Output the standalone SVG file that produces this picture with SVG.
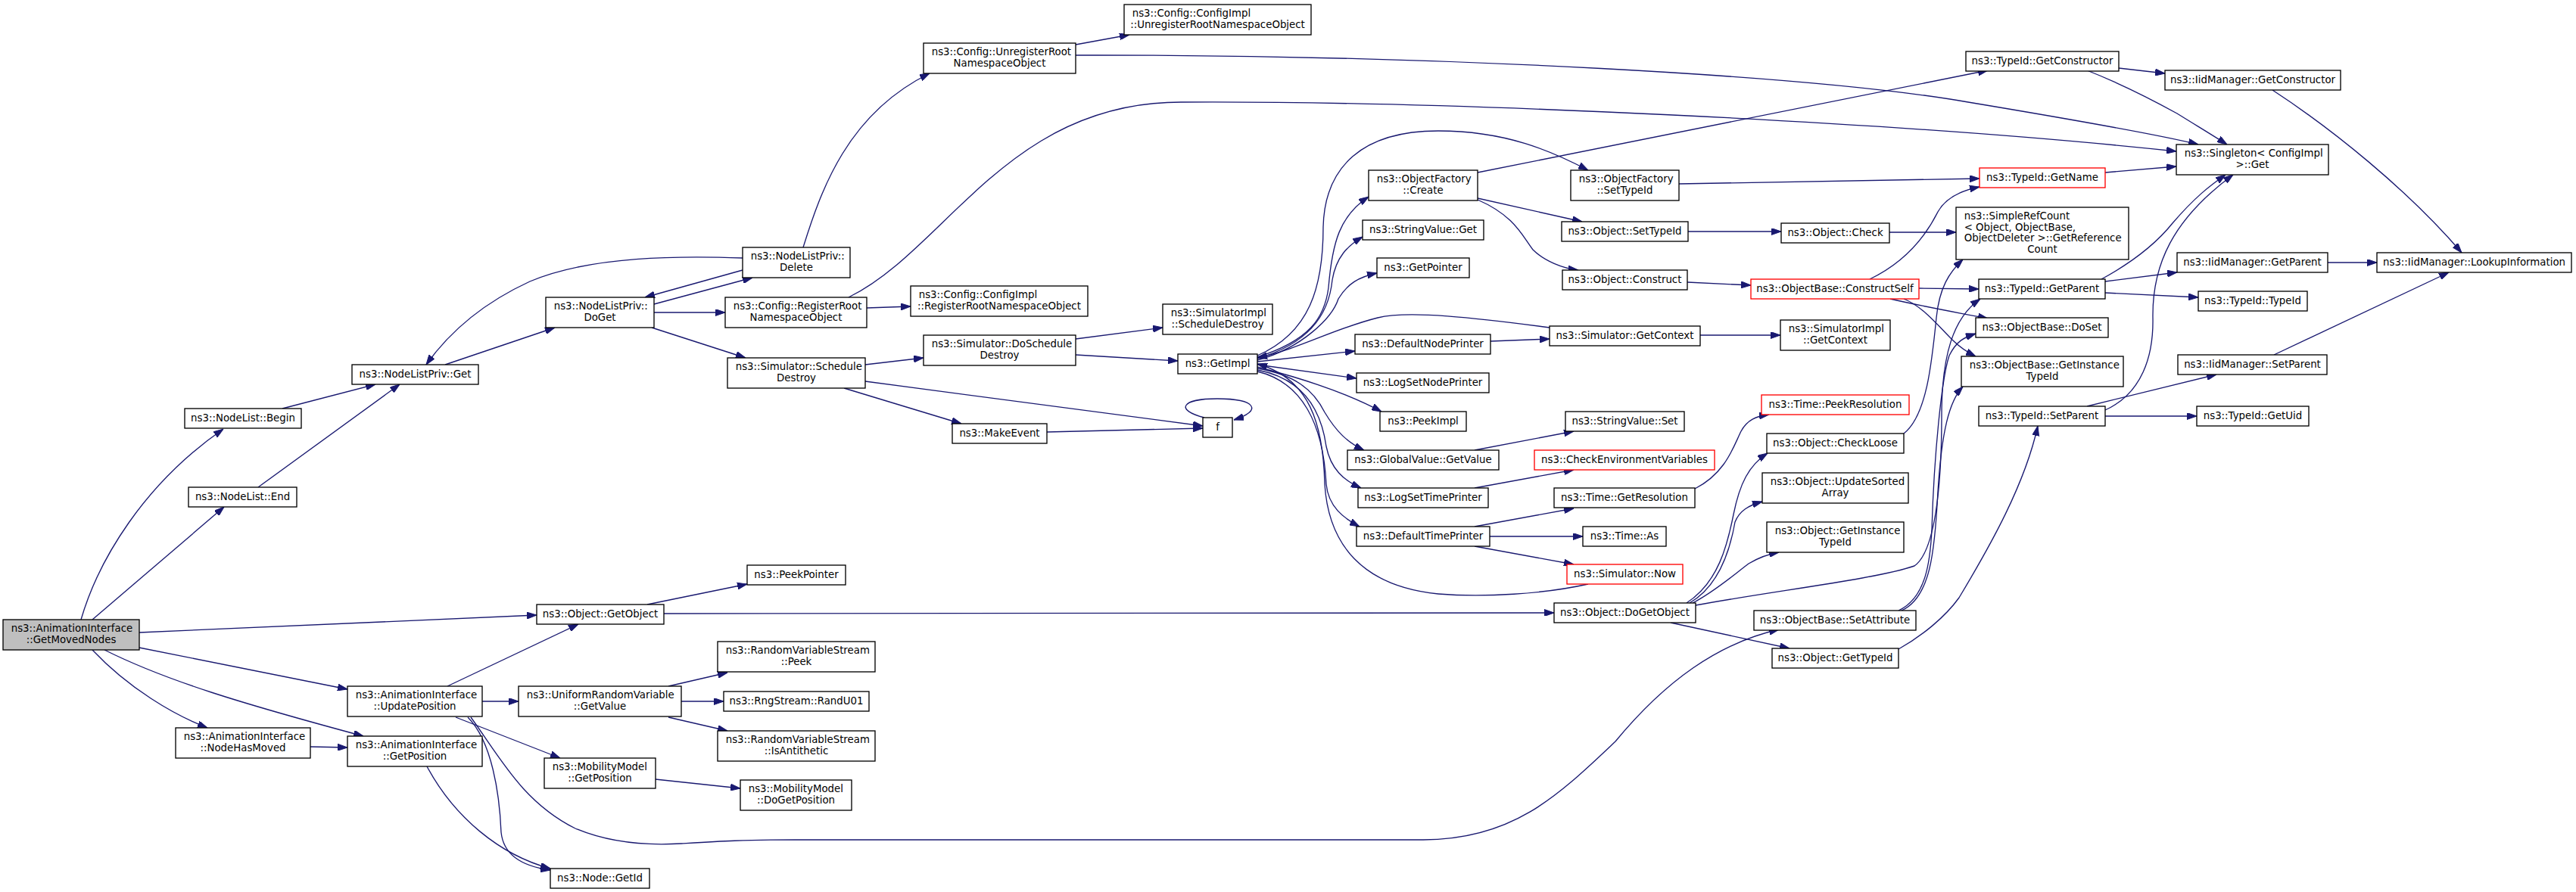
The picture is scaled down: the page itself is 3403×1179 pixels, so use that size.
<svg xmlns="http://www.w3.org/2000/svg" width="3403" height="1179" viewBox="0 0 3403 1179">
<style>
rect{fill:#fff;stroke:#000;stroke-width:1.33}
.red rect{stroke:#ff0000}
.root rect{fill:#bfbfbf}
text{font-family:"DejaVu Sans",sans-serif;font-size:13.33px;fill:#000}
.m{text-anchor:middle}
.s{text-anchor:start}
#edges path{fill:none;stroke:#191970;stroke-width:1.33;marker-end:url(#a)}
</style>
<defs>
<marker id="a" viewBox="0 0 13 9" refX="13" refY="4.5" markerWidth="13" markerHeight="9" markerUnits="userSpaceOnUse" orient="auto">
<path d="M0,0 L13,4.5 L0,9 z" fill="#191970" stroke="#191970" stroke-width="1"/>
</marker>
</defs>
<rect x="0" y="0" width="3403" height="1179" style="fill:#fff;stroke:none"/>
<g id="edges">
<path d="M107,819 C130,740 190,640 295,567"/>
<path d="M122,819 L296,670"/>
<path d="M184,836 L709,813"/>
<path d="M184,856 L459,911"/>
<path d="M122,859 C170,910 230,945 274,962"/>
<path d="M138,859 C220,900 320,930 480,973"/>
<path d="M373,540 L496,508"/>
<path d="M341,644 L528,508"/>
<path d="M588,482 L733,433"/>
<path d="M864,402 L994,367"/>
<path d="M981,357 L852,393"/>
<path d="M981,341 C900,338 780,338 700,372 C650,395 600,430 563,482"/>
<path d="M1061,327 C1085,250 1120,150 1228,97"/>
<path d="M1421,59 L1492,46"/>
<path d="M1421,73 C1900,72 2400,100 2600,135 C2780,165 2860,180 2904,191"/>
<path d="M864,413 L958,413"/>
<path d="M1145,407 L1203,405"/>
<path d="M1121,393 C1250,330 1330,135 1560,135 C1900,133 2500,160 2875,200"/>
<path d="M861,433 L985,473"/>
<path d="M1143,482 L1220,473"/>
<path d="M1143,504 L1589,563"/>
<path d="M1115,513 L1270,560"/>
<path d="M1383,571 L1589,566"/>
<path d="M1591,552 C1552,542 1560,527 1608,527 C1660,527 1668,543 1630,555"/>
<path d="M1421,448 L1536,433"/>
<path d="M1421,469 L1556,477"/>
<path d="M1661,472 C1730,450 1750,420 1755,380 C1760,320 1770,285 1808,260"/>
<path d="M1661,470 C1730,440 1748,380 1748,300 C1750,220 1800,173 1900,173 C1990,173 2050,200 2098,225"/>
<path d="M1661,474 C1725,455 1755,420 1760,370 C1765,340 1780,325 1800,313"/>
<path d="M1661,476 C1720,460 1760,420 1768,395 C1780,375 1795,366 1819,361"/>
<path d="M1661,478 L1790,464"/>
<path d="M1661,482 L1792,500"/>
<path d="M1661,485 C1720,500 1780,520 1825,544"/>
<path d="M1661,487 C1710,495 1735,515 1750,545 C1765,570 1780,585 1802,595"/>
<path d="M1661,489 C1720,500 1745,540 1752,590 C1758,620 1775,635 1798,645"/>
<path d="M1661,491 C1720,505 1748,560 1752,640 C1755,670 1775,685 1796,696"/>
<path d="M2047,433 C1950,420 1860,410 1820,420 C1760,435 1720,460 1661,473"/>
<path d="M2098,772 C2040,785 1960,790 1900,785 C1800,775 1755,720 1750,640 C1748,560 1730,500 1661,481"/>
<path d="M1969,451 L2047,448"/>
<path d="M2246,443 L2352,443"/>
<path d="M1948,595 L2079,570"/>
<path d="M1948,645 L2079,621"/>
<path d="M1948,696 L2079,672"/>
<path d="M1968,709 L2091,709"/>
<path d="M1948,722 L2079,746"/>
<path d="M2239,646 C2280,625 2290,590 2300,570 C2308,555 2320,550 2337,548"/>
<path d="M1952,228 L2626,93"/>
<path d="M1952,262 L2090,293"/>
<path d="M1952,264 C2000,285 2010,310 2025,330 C2040,345 2065,355 2085,357"/>
<path d="M2218,243 L2615,236"/>
<path d="M2230,306 L2353,306"/>
<path d="M2496,307 L2584,307"/>
<path d="M2229,373 L2313,377"/>
<path d="M2470,369 C2520,345 2545,310 2560,280 C2570,262 2590,252 2615,247"/>
<path d="M2535,381 L2614,382"/>
<path d="M2497,395 C2540,405 2580,412 2626,421"/>
<path d="M2515,395 C2540,405 2560,430 2580,450 C2590,460 2600,466 2610,471"/>
<path d="M2515,573 C2545,550 2552,480 2558,420 C2562,380 2575,360 2593,343"/>
<path d="M2799,90 L2860,97"/>
<path d="M2757,93 C2800,110 2840,130 2876,150 C2905,168 2925,180 2942,191"/>
<path d="M2781,228 L2875,220"/>
<path d="M2776,369 C2820,345 2850,320 2870,295 C2900,260 2920,245 2940,231"/>
<path d="M2781,542 C2830,520 2845,470 2844,420 C2843,350 2870,290 2950,231"/>
<path d="M2781,372 L2876,360"/>
<path d="M2781,387 L2904,393"/>
<path d="M2757,537 L2928,495"/>
<path d="M2781,550 L2902,550"/>
<path d="M3004,469 L3235,360"/>
<path d="M3075,347 L3140,347"/>
<path d="M3002,119 C3080,170 3180,250 3252,334"/>
<path d="M591,907 L764,825"/>
<path d="M637,927 L685,927"/>
<path d="M602,948 L740,1002"/>
<path d="M618,948 C650,980 660,1050 662,1100 C665,1130 690,1145 727,1150"/>
<path d="M622,948 C660,1000 690,1060 760,1095 C800,1112 850,1118 900,1115 C950,1112 980,1110 1050,1110 L1880,1110 C2000,1110 2060,1050 2134,980 C2200,900 2270,850 2350,832"/>
<path d="M564,1013 C600,1080 660,1130 727,1148"/>
<path d="M410,987 L459,988"/>
<path d="M883,907 L961,889"/>
<path d="M900,927 L956,927"/>
<path d="M883,948 L961,966"/>
<path d="M866,1030 L978,1042"/>
<path d="M855,799 L987,772"/>
<path d="M877,811 L2053,810"/>
<path d="M2207,823 L2364,857"/>
<path d="M2228,797 C2270,770 2282,720 2290,680 C2298,640 2310,615 2335,599"/>
<path d="M2232,797 C2270,775 2285,730 2292,690 C2298,675 2310,668 2328,663"/>
<path d="M2236,797 C2265,782 2290,760 2310,745 C2325,736 2338,732 2350,730"/>
<path d="M2240,800 C2350,780 2480,765 2529,748 C2555,730 2565,650 2565,550 C2565,470 2580,420 2616,395"/>
<path d="M2508,807 C2545,790 2550,740 2552,700 C2555,600 2565,500 2575,470 C2585,450 2595,446 2610,441"/>
<path d="M2512,807 C2550,790 2556,730 2560,650 C2565,570 2575,530 2593,511"/>
<path d="M2508,858 C2540,840 2570,815 2588,790 C2630,720 2675,640 2692,563"/>
</g>
<g id="n1" class="root"><rect x="4" y="819" width="180" height="40"/><text class="s" x="14.7" y="835">ns3::AnimationInterface</text><text class="m" x="94" y="849.7">::GetMovedNodes</text></g>
<g id="n2"><rect x="244" y="540" width="154" height="26"/><text class="m" x="321" y="557">ns3::NodeList::Begin</text></g>
<g id="n3"><rect x="249" y="644" width="143" height="26"/><text class="m" x="320.5" y="661">ns3::NodeList::End</text></g>
<g id="n4"><rect x="465" y="482" width="167" height="26"/><text class="m" x="548.5" y="499">ns3::NodeListPriv::Get</text></g>
<g id="n5"><rect x="721" y="393" width="143" height="40"/><text class="s" x="731.7" y="409">ns3::NodeListPriv::</text><text class="m" x="792.5" y="423.7">DoGet</text></g>
<g id="n6"><rect x="981" y="327" width="142" height="40"/><text class="s" x="991.7" y="343">ns3::NodeListPriv::</text><text class="m" x="1052" y="357.7">Delete</text></g>
<g id="n7"><rect x="1220" y="57" width="201" height="40"/><text class="s" x="1230.7" y="73">ns3::Config::UnregisterRoot</text><text class="m" x="1320.5" y="87.7">NamespaceObject</text></g>
<g id="n8"><rect x="1485" y="6" width="247" height="40"/><text class="s" x="1495.7" y="22">ns3::Config::ConfigImpl</text><text class="m" x="1608.5" y="36.7">::UnregisterRootNamespaceObject</text></g>
<g id="n9"><rect x="958" y="393" width="187" height="40"/><text class="s" x="968.7" y="409">ns3::Config::RegisterRoot</text><text class="m" x="1051.5" y="423.7">NamespaceObject</text></g>
<g id="n10"><rect x="1203" y="378" width="234" height="40"/><text class="s" x="1213.7" y="394">ns3::Config::ConfigImpl</text><text class="m" x="1320" y="408.7">::RegisterRootNamespaceObject</text></g>
<g id="n11"><rect x="961" y="473" width="182" height="40"/><text class="s" x="971.7" y="489">ns3::Simulator::Schedule</text><text class="m" x="1052" y="503.7">Destroy</text></g>
<g id="n12"><rect x="1220" y="443" width="201" height="40"/><text class="s" x="1230.7" y="459">ns3::Simulator::DoSchedule</text><text class="m" x="1320.5" y="473.7">Destroy</text></g>
<g id="n13"><rect x="1536" y="402" width="145" height="40"/><text class="s" x="1546.7" y="418">ns3::SimulatorImpl</text><text class="m" x="1608.5" y="432.7">::ScheduleDestroy</text></g>
<g id="n14"><rect x="1556" y="468" width="105" height="26"/><text class="m" x="1608.5" y="485">ns3::GetImpl</text></g>
<g id="n15"><rect x="1258" y="560" width="125" height="26"/><text class="m" x="1320.5" y="577">ns3::MakeEvent</text></g>
<g id="n16"><rect x="1589" y="552" width="39" height="26"/><text class="m" x="1608.5" y="569">f</text></g>
<g id="n17"><rect x="987" y="747" width="130" height="26"/><text class="m" x="1052" y="764">ns3::PeekPointer</text></g>
<g id="n18"><rect x="709" y="799" width="168" height="26"/><text class="m" x="793" y="816">ns3::Object::GetObject</text></g>
<g id="n19"><rect x="459" y="907" width="178" height="40"/><text class="s" x="469.7" y="923">ns3::AnimationInterface</text><text class="m" x="548" y="937.7">::UpdatePosition</text></g>
<g id="n20"><rect x="232" y="962" width="178" height="40"/><text class="s" x="242.7" y="978">ns3::AnimationInterface</text><text class="m" x="321" y="992.7">::NodeHasMoved</text></g>
<g id="n21"><rect x="459" y="973" width="178" height="40"/><text class="s" x="469.7" y="989">ns3::AnimationInterface</text><text class="m" x="548" y="1003.7">::GetPosition</text></g>
<g id="n22"><rect x="685" y="907" width="215" height="40"/><text class="s" x="695.7" y="923">ns3::UniformRandomVariable</text><text class="m" x="792.5" y="937.7">::GetValue</text></g>
<g id="n23"><rect x="719" y="1002" width="147" height="40"/><text class="s" x="729.7" y="1018">ns3::MobilityModel</text><text class="m" x="792.5" y="1032.7">::GetPosition</text></g>
<g id="n24"><rect x="727" y="1148" width="131" height="26"/><text class="m" x="792.5" y="1165">ns3::Node::GetId</text></g>
<g id="n25"><rect x="948" y="848" width="208" height="40"/><text class="s" x="958.7" y="864">ns3::RandomVariableStream</text><text class="m" x="1052" y="878.7">::Peek</text></g>
<g id="n26"><rect x="956" y="914" width="192" height="26"/><text class="m" x="1052" y="931">ns3::RngStream::RandU01</text></g>
<g id="n27"><rect x="948" y="966" width="208" height="40"/><text class="s" x="958.7" y="982">ns3::RandomVariableStream</text><text class="m" x="1052" y="996.7">::IsAntithetic</text></g>
<g id="n28"><rect x="978" y="1031" width="147" height="40"/><text class="s" x="988.7" y="1047">ns3::MobilityModel</text><text class="m" x="1051.5" y="1061.7">::DoGetPosition</text></g>
<g id="n29"><rect x="1808" y="225" width="144" height="40"/><text class="s" x="1818.7" y="241">ns3::ObjectFactory</text><text class="m" x="1880" y="255.7">::Create</text></g>
<g id="n30"><rect x="2075" y="225" width="143" height="40"/><text class="s" x="2085.7" y="241">ns3::ObjectFactory</text><text class="m" x="2146.5" y="255.7">::SetTypeId</text></g>
<g id="n31"><rect x="1800" y="291" width="160" height="26"/><text class="m" x="1880" y="308">ns3::StringValue::Get</text></g>
<g id="n32"><rect x="1819" y="341" width="122" height="26"/><text class="m" x="1880" y="358">ns3::GetPointer</text></g>
<g id="n33"><rect x="2063" y="293" width="167" height="26"/><text class="m" x="2146.5" y="310">ns3::Object::SetTypeId</text></g>
<g id="n34"><rect x="2353" y="295" width="143" height="26"/><text class="m" x="2424.5" y="312">ns3::Object::Check</text></g>
<g id="n35"><rect x="2064" y="357" width="165" height="26"/><text class="m" x="2146.5" y="374">ns3::Object::Construct</text></g>
<g id="n36" class="red"><rect x="2313" y="369" width="222" height="26"/><text class="m" x="2424" y="386">ns3::ObjectBase::ConstructSelf</text></g>
<g id="n37"><rect x="2597" y="68" width="202" height="26"/><text class="m" x="2698" y="85">ns3::TypeId::GetConstructor</text></g>
<g id="n38"><rect x="2860" y="93" width="232" height="26"/><text class="m" x="2976" y="110">ns3::IidManager::GetConstructor</text></g>
<g id="n39"><rect x="2875" y="191" width="201" height="40"/><text class="s" x="2885.7" y="207">ns3::Singleton&lt; ConfigImpl</text><text class="m" x="2975.5" y="221.7">&gt;::Get</text></g>
<g id="n40" class="red"><rect x="2615" y="222" width="166" height="26"/><text class="m" x="2698" y="239">ns3::TypeId::GetName</text></g>
<g id="n41"><rect x="2584" y="274" width="228" height="69"/><text class="s" x="2594.7" y="290">ns3::SimpleRefCount</text><text class="s" x="2594.7" y="304.7">&lt; Object, ObjectBase,</text><text class="s" x="2594.7" y="319.3">ObjectDeleter &gt;::GetReference</text><text class="m" x="2698" y="334">Count</text></g>
<g id="n42"><rect x="2876" y="334" width="199" height="26"/><text class="m" x="2975.5" y="351">ns3::IidManager::GetParent</text></g>
<g id="n43"><rect x="3140" y="334" width="257" height="26"/><text class="m" x="3268.5" y="351">ns3::IidManager::LookupInformation</text></g>
<g id="n44"><rect x="2614" y="369" width="167" height="26"/><text class="m" x="2697.5" y="386">ns3::TypeId::GetParent</text></g>
<g id="n45"><rect x="2904" y="385" width="144" height="26"/><text class="m" x="2976" y="402">ns3::TypeId::TypeId</text></g>
<g id="n46"><rect x="2610" y="420" width="175" height="26"/><text class="m" x="2697.5" y="437">ns3::ObjectBase::DoSet</text></g>
<g id="n47"><rect x="2591" y="471" width="214" height="40"/><text class="s" x="2601.7" y="487">ns3::ObjectBase::GetInstance</text><text class="m" x="2698" y="501.7">TypeId</text></g>
<g id="n48"><rect x="2614" y="537" width="167" height="26"/><text class="m" x="2697.5" y="554">ns3::TypeId::SetParent</text></g>
<g id="n49"><rect x="2877" y="469" width="197" height="26"/><text class="m" x="2975.5" y="486">ns3::IidManager::SetParent</text></g>
<g id="n50"><rect x="2902" y="537" width="148" height="26"/><text class="m" x="2976" y="554">ns3::TypeId::GetUid</text></g>
<g id="n51"><rect x="2047" y="431" width="199" height="26"/><text class="m" x="2146.5" y="448">ns3::Simulator::GetContext</text></g>
<g id="n52"><rect x="2352" y="423" width="145" height="40"/><text class="s" x="2362.7" y="439">ns3::SimulatorImpl</text><text class="m" x="2424.5" y="453.7">::GetContext</text></g>
<g id="n53"><rect x="1790" y="442" width="179" height="26"/><text class="m" x="1879.5" y="459">ns3::DefaultNodePrinter</text></g>
<g id="n54"><rect x="1792" y="493" width="175" height="26"/><text class="m" x="1879.5" y="510">ns3::LogSetNodePrinter</text></g>
<g id="n55"><rect x="1823" y="544" width="114" height="26"/><text class="m" x="1880" y="561">ns3::PeekImpl</text></g>
<g id="n56"><rect x="2068" y="544" width="157" height="26"/><text class="m" x="2146.5" y="561">ns3::StringValue::Set</text></g>
<g id="n57"><rect x="1780" y="595" width="200" height="26"/><text class="m" x="1880" y="612">ns3::GlobalValue::GetValue</text></g>
<g id="n58" class="red"><rect x="2027" y="595" width="238" height="26"/><text class="m" x="2146" y="612">ns3::CheckEnvironmentVariables</text></g>
<g id="n59"><rect x="1794" y="645" width="172" height="26"/><text class="m" x="1880" y="662">ns3::LogSetTimePrinter</text></g>
<g id="n60"><rect x="2053" y="645" width="186" height="26"/><text class="m" x="2146" y="662">ns3::Time::GetResolution</text></g>
<g id="n61" class="red"><rect x="2327" y="522" width="195" height="26"/><text class="m" x="2424.5" y="539">ns3::Time::PeekResolution</text></g>
<g id="n62"><rect x="2334" y="573" width="181" height="26"/><text class="m" x="2424.5" y="590">ns3::Object::CheckLoose</text></g>
<g id="n63"><rect x="2328" y="625" width="193" height="40"/><text class="s" x="2338.7" y="641">ns3::Object::UpdateSorted</text><text class="m" x="2424.5" y="655.7">Array</text></g>
<g id="n64"><rect x="2334" y="690" width="181" height="40"/><text class="s" x="2344.7" y="706">ns3::Object::GetInstance</text><text class="m" x="2424.5" y="720.7">TypeId</text></g>
<g id="n65"><rect x="1792" y="696" width="176" height="26"/><text class="m" x="1880" y="713">ns3::DefaultTimePrinter</text></g>
<g id="n66"><rect x="2091" y="696" width="110" height="26"/><text class="m" x="2146" y="713">ns3::Time::As</text></g>
<g id="n67" class="red"><rect x="2070" y="746" width="153" height="26"/><text class="m" x="2146.5" y="763">ns3::Simulator::Now</text></g>
<g id="n68"><rect x="2053" y="797" width="187" height="26"/><text class="m" x="2146.5" y="814">ns3::Object::DoGetObject</text></g>
<g id="n69"><rect x="2317" y="807" width="214" height="26"/><text class="m" x="2424" y="824">ns3::ObjectBase::SetAttribute</text></g>
<g id="n70"><rect x="2341" y="857" width="167" height="26"/><text class="m" x="2424.5" y="874">ns3::Object::GetTypeId</text></g>
</svg>
